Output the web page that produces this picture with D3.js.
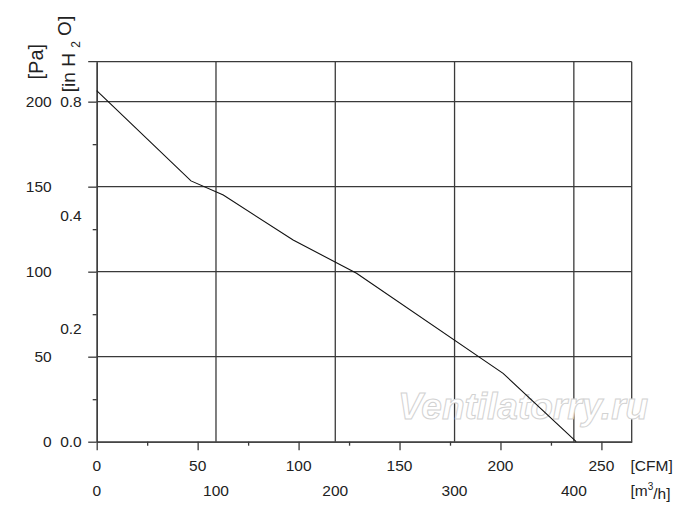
<!DOCTYPE html>
<html>
<head>
<meta charset="utf-8">
<script src="https://cdn.jsdelivr.net/npm/d3@7"></script>
<style>
  html, body { margin: 0; padding: 0; background: #fff; }
  svg { display: block; }
  text { font-family: "Liberation Sans", Arial, sans-serif; fill: #222; }
</style>
</head>
<body>
<svg id="chart" width="700" height="524"></svg>
<script>
// ---- data ----
const flowCFM   = [0, 46.7, 62.7, 97.3, 128.7, 201.3, 237.5];
const pressurePa = [206.5, 153.4, 145.1, 118.6, 99.1, 40.2, 0];

const cfmMajorTicks = [0, 50, 100, 150, 200, 250];
const cfmMinorTicks = [25, 75, 125, 175, 225];
const m3hTicks      = [0, 100, 200, 300, 400];
const paMajorTicks  = [0, 50, 100, 150, 200];
const paMinorTicks  = [25, 75, 125, 175];
const inH2OLabels   = ["0.0", "0.2", "0.4", "0.8"];
const inH2OAtPa     = [0, 66.7, 133.3, 200];

const cfmMax = 265, m3hMax = 448.5, paMax = 223.5;

// ---- layout ----
const L = 96.7, R = 631.7, T = 61.7, B = 441.7;
const svg = d3.select("#chart");

const x = d3.scaleLinear().domain([0, cfmMax]).range([L, R]);
const xm = d3.scaleLinear().domain([0, m3hMax]).range([L, R]);
const y = d3.scaleLinear().domain([0, paMax]).range([B, T]);

const gridColor = "#3a3a3a";

// horizontal grid
svg.append("g").selectAll("line").data(paMajorTicks.filter(d => d > 0))
  .join("line")
  .attr("x1", L).attr("x2", R)
  .attr("y1", d => y(d)).attr("y2", d => y(d))
  .attr("stroke", gridColor).attr("stroke-width", 1.3);

// vertical grid (m3/h)
svg.append("g").selectAll("line").data(m3hTicks.filter(d => d > 0))
  .join("line")
  .attr("x1", d => xm(d)).attr("x2", d => xm(d))
  .attr("y1", T).attr("y2", B)
  .attr("stroke", gridColor).attr("stroke-width", 1.3);

// top and right border
svg.append("line").attr("x1", L - 8.5).attr("x2", R).attr("y1", y(paMax)).attr("y2", y(paMax))
  .attr("stroke", gridColor).attr("stroke-width", 1.3);
svg.append("line").attr("x1", R).attr("x2", R).attr("y1", T).attr("y2", B)
  .attr("stroke", gridColor).attr("stroke-width", 1.3);

// axes (ticks only)
function styleAxis(g) {
  g.selectAll("path, line").attr("stroke", gridColor).attr("stroke-width", 1.3);
  g.selectAll("text").remove();
}
svg.append("g").attr("transform", `translate(0,${B})`)
  .call(d3.axisBottom(x).tickValues(cfmMajorTicks).tickSize(8.5).tickSizeOuter(0)).call(styleAxis);
svg.append("g").attr("transform", `translate(0,${B})`)
  .call(d3.axisBottom(x).tickValues(cfmMinorTicks).tickSize(4).tickSizeOuter(0)).call(styleAxis);
svg.append("g").attr("transform", `translate(${L},0)`)
  .call(d3.axisLeft(y).tickValues(paMajorTicks).tickSize(8.5).tickSizeOuter(0)).call(styleAxis);
svg.append("g").attr("transform", `translate(${L},0)`)
  .call(d3.axisLeft(y).tickValues(paMinorTicks).tickSize(4).tickSizeOuter(0)).call(styleAxis);

// watermark (behind the curve)
svg.append("text").attr("x", 398).attr("y", 419)
  .attr("font-size", 37).attr("font-style", "italic").attr("font-weight", "bold")
  .style("fill", "#fff").attr("stroke", "#d2d2d2").attr("stroke-width", 1)
  .text("Ventilatorry.ru");

// curve
svg.append("path")
  .datum(flowCFM.map((c, i) => [c, pressurePa[i]]))
  .attr("fill", "none").attr("stroke", "#111").attr("stroke-width", 1.1)
  .attr("d", d3.line().x(d => x(d[0])).y(d => y(d[1])));

// tick labels
const fs = 15.5;
svg.append("g").selectAll("text").data(paMajorTicks).join("text")
  .attr("x", 51.7).attr("y", d => y(d)).attr("dy", "0.36em")
  .attr("text-anchor", "end").attr("font-size", fs).text(d => d);
svg.append("g").selectAll("text").data(inH2OLabels).join("text")
  .attr("x", 81.7).attr("y", (d, i) => y(inH2OAtPa[i])).attr("dy", "0.36em")
  .attr("text-anchor", "end").attr("font-size", fs).text(d => d);
svg.append("g").selectAll("text").data(cfmMajorTicks).join("text")
  .attr("x", d => x(d)).attr("y", 465).attr("dy", "0.36em")
  .attr("text-anchor", "middle").attr("font-size", fs).text(d => d);
svg.append("g").selectAll("text").data(m3hTicks).join("text")
  .attr("x", d => xm(d)).attr("y", 490.5).attr("dy", "0.36em")
  .attr("text-anchor", "middle").attr("font-size", fs).text(d => d);

// unit labels
svg.append("text").attr("x", 630.5).attr("y", 465).attr("dy", "0.36em")
  .attr("font-size", fs).text("[CFM]");
const m3 = svg.append("text").attr("x", 630.5).attr("y", 490.5).attr("dy", "0.36em")
  .attr("font-size", fs);
m3.append("tspan").text("[m");
m3.append("tspan").attr("font-size", 10).attr("dy", "-0.6em").text("3");
m3.append("tspan").attr("dy", "0.6em").text("/h]");

// rotated axis titles
svg.append("text").attr("transform", "translate(42.5,61.7) rotate(-90)")
  .attr("text-anchor", "middle").attr("font-size", 20).text("[Pa]");
const h2o = svg.append("text").attr("transform", "translate(74.5,54) rotate(-90)")
  .attr("text-anchor", "middle").attr("font-size", 19);
h2o.append("tspan").text("[in H ");
h2o.append("tspan").attr("font-size", 12).attr("dy", "0.45em").text("2");
h2o.append("tspan").attr("dy", "-0.45em").text(" O]");
</script>
</body>
</html>
